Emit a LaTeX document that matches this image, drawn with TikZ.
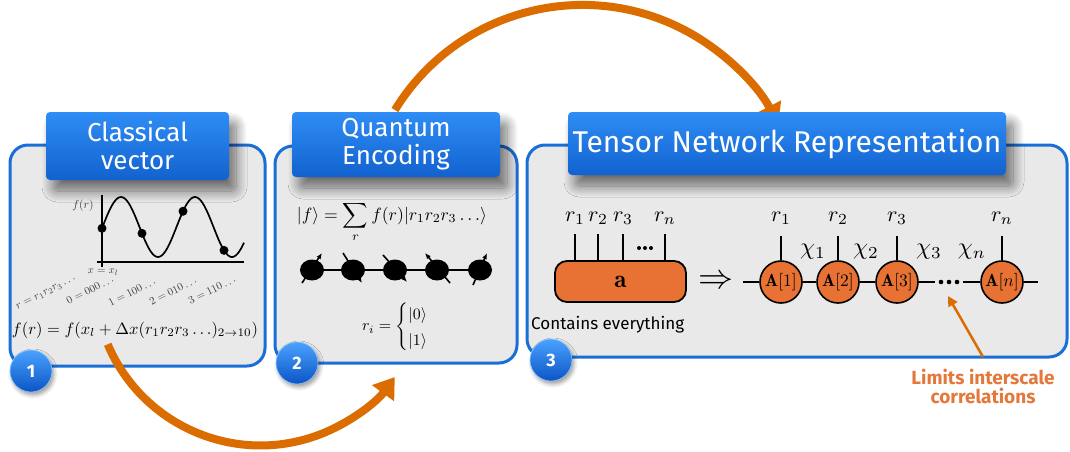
\documentclass[tikz,border=0pt]{standalone}
\usepackage{amsmath}
\usepackage{fontspec}
\newfontfamily\dinfont{Fira Sans}
\usetikzlibrary{shapes.geometric,arrows.meta,shadows.blur,calc}

\definecolor{panelblue}{HTML}{1A6ED8}
\definecolor{panelfill}{HTML}{E9E9E9}
\definecolor{titletop}{HTML}{2F8DF5}
\definecolor{titlebot}{HTML}{1262CF}
\definecolor{badgetop}{HTML}{4AA2FF}
\definecolor{badgemid}{HTML}{1A76EA}
\definecolor{badgebot}{HTML}{0B55C4}
\definecolor{arroworange}{HTML}{DA6C00}
\definecolor{tensororange}{HTML}{E87233}
\definecolor{noteorange}{HTML}{E4783A}

\newcommand{\fsz}[1]{\fontsize{#1}{#1}\selectfont}
\newcommand{\mth}[2]{\scalebox{#1}{$#2$}}

\begin{document}
\begin{tikzpicture}[x=1pt,y=-1pt,
  panel/.style={draw=panelblue, line width=3pt, fill=panelfill, rounded corners=18pt, inner sep=0pt},
  titlebox/.style={rounded corners=4pt, top color=titletop, bottom color=titlebot,
    text=white, align=center, inner sep=0pt,
    blur shadow={shadow xshift=7pt, shadow yshift=-11pt, shadow blur radius=11pt,
      shadow blur steps=14, shadow opacity=55}},
  badge/.style={circle, minimum size=42pt, inner sep=0pt,
    top color=badgetop, middle color=badgemid, bottom color=badgebot, text=white,
    draw=badgetop!60!white, line width=0.6pt,
    font=\dinfont\bfseries\fsz{18},
    blur shadow={shadow xshift=2pt, shadow yshift=-3pt, shadow blur radius=4pt, shadow opacity=40}},
  bigarrow/.style={draw=arroworange, line width=8pt, -{Triangle[width=26pt,length=20pt]}},
  notearrow/.style={draw=arroworange, line width=2.5pt, -{Triangle[width=10pt,length=10pt]}},
  site/.style={circle, draw, line width=1.6pt, fill=tensororange, minimum size=42pt, inner sep=0pt},
  tensorbox/.style={rectangle, rounded corners=12pt, draw, line width=1.8pt, fill=tensororange, inner sep=0pt},
  leg/.style={line width=1.6pt},
  mathlbl/.style={inner sep=0pt},
  spinsite/.style={ellipse, fill=black, minimum width=24pt, minimum height=21pt, inner sep=0pt},
  spin/.style={line width=1.6pt, -{Latex[length=6pt,width=5pt]}},
  small/.style={inner sep=0pt, text=black!75}
]
\useasboundingbox (0,0) rectangle (1070,452);

% ---------- panels ----------
\node[panel, minimum width=255pt, minimum height=221pt] (p1) at (137.5,255.5) {};
\node[panel, minimum width=242pt, minimum height=217pt] (p2) at (396,254.5) {};
\node[panel, minimum width=540pt, minimum height=212pt] (p3) at (797,251) {};

% ---------- flow arrows ----------
\coordinate (flowAstart) at (107.7,344.3);
\coordinate (flowBstart) at (394.9,110);
\draw[bigarrow] (flowAstart) arc[start angle=157, end angle=36, radius=166];
\draw[bigarrow] (flowBstart) arc[start angle=-148.5, end angle=-27.2, radius=220];

% ---------- titles ----------
\node[titlebox, minimum width=183pt, minimum height=68pt, font=\dinfont\fsz{26}] (t1) at (137.5,146)
  {Classical\\[2pt]vector};
\node[titlebox, minimum width=208pt, minimum height=65pt, font=\dinfont\fsz{26}] (t2) at (396,144.5)
  {Quantum\\[2pt]Encoding};
\node[titlebox, minimum width=438pt, minimum height=63pt, font=\dinfont\fsz{30}] (t3) at (787,143.5)
  {Tensor Network Representation};

% ---------- panel 1: classical vector ----------
\coordinate (yaxtop) at (102,195);
\coordinate (yaxbot) at (102,267);
\coordinate (xaxl) at (97,262);
\coordinate (xaxr) at (244,262);
\draw[line width=1.6pt] (yaxbot) -- (yaxtop);
\draw[line width=1.6pt] (xaxl) -- (xaxr);
\draw[line width=1.7pt] plot[domain=102:244, samples=90, smooth] (\x, {227-30*cos(4.8649*(\x-121))});
\foreach \px in {102,142,183,224}
  \fill (\px, {227-30*cos(4.8649*(\px-121))}) circle (4.5pt);
\node[small] (fr) at (83,206) {\mth{1.15}{f(r)}};
\node[small] (xl) at (103,272) {\mth{1.1}{x=x_l}};
\node[small, rotate=27] (lr) at (46,293) {\mth{1.12}{r=r_1r_2r_3\ldots}};
\node[small, rotate=27] (l0) at (90,290) {\mth{1.1}{0=000\ldots}};
\node[small, rotate=27] (l1) at (132,292) {\mth{1.1}{1=100\ldots}};
\node[small, rotate=27] (l2) at (173,291) {\mth{1.1}{2=010\ldots}};
\node[small, rotate=27] (l3) at (212,290) {\mth{1.1}{3=110\ldots}};
\node[inner sep=0pt] (feq) at (135,330)
  {\resizebox{246pt}{!}{$f(r)=f(x_l+\Delta x(r_1r_2r_3\ldots)_{2\rightarrow10})$}};

% ---------- panel 2: quantum encoding ----------
\node[inner sep=0pt] (qeq) at (392,222)
  {\resizebox{190pt}{!}{$\displaystyle |f\rangle=\sum_r f(r)|r_1r_2r_3\ldots\rangle$}};
\node[spinsite] (s1) at (312,270) {};
\node[spinsite] (s2) at (353,270) {};
\node[spinsite] (s3) at (395,270) {};
\node[spinsite] (s4) at (437,270) {};
\node[spinsite] (s5) at (480,270) {};
\draw[line width=1.8pt] (s1) -- (s2) -- (s3) -- (s4) -- (s5);
\draw[spin] ([shift={(-10,13)}]s1.center) -- ([shift={(10,-17)}]s1.center);
\draw[spin] ([shift={(-10,-17)}]s2.center) -- ([shift={(9,13)}]s2.center);
\draw[spin] ([shift={(-12,-15)}]s3.center) -- ([shift={(12,12)}]s3.center);
\draw[spin] ([shift={(13,13)}]s4.center) -- ([shift={(-12,-17)}]s4.center);
\draw[spin] ([shift={(-7,15)}]s5.center) -- ([shift={(7,-17)}]s5.center);
\node[inner sep=0pt] (ri) at (394.5,327)
  {\resizebox{65pt}{!}{\renewcommand{\arraystretch}{1.35}%
    $r_i=\left\{\begin{array}{@{}l@{}}|0\rangle\\|1\rangle\end{array}\right.\kern-\nulldelimiterspace$}};

% ---------- panel 3: tensor network ----------
\node[tensorbox, minimum width=131pt, minimum height=41pt] (ta) at (620.5,281.5) {\mth{2.5}{\mathbf{a}}};
\foreach \dx/\lab in {-45.5/1,-22.5/2,2.5/3,44.5/n} {
  \draw[leg] ([xshift=\dx pt]ta.north) -- ++(0,-26);
  \node[mathlbl] at ([shift={(\dx,-63.5)}]ta.center) {\mth{2.2}{r_{\lab}}};
}
\node[inner sep=0pt, minimum width=16pt, minimum height=5pt] (tadots) at (645,248) {};
\foreach \k in {-1,0,1}
  \fill ([xshift=\k*6pt]tadots.center) circle (2pt);
\node[inner sep=0pt] (impl) at (715.5,282) {\resizebox{35pt}{!}{$\Rightarrow$}};
\node[anchor=west, inner sep=0pt, font=\dinfont\fsz{17}] (contains) at (531,325) {Contains everything};

\node[site] (A1) at (781,282) {\mth{1.75}{\mathbf{A}[1]}};
\node[site] (A2) at (838,282) {\mth{1.75}{\mathbf{A}[2]}};
\node[site] (A3) at (897,282) {\mth{1.75}{\mathbf{A}[3]}};
\node[site] (An) at (1002,282) {\mth{1.75}{\mathbf{A}[n]}};
\node[inner sep=0pt, minimum width=20pt, minimum height=6pt] (mdots) at (949,282) {};
\foreach \k in {-1,0,1}
  \fill ([xshift=\k*8pt]mdots.center) circle (2.3pt);
\coordinate (Lend) at (743,282);
\coordinate (Rend) at (1038,282);
\draw[leg] (Lend) -- (A1) -- (A2) -- (A3) -- ([xshift=-4pt]mdots.west);
\draw[leg] ([xshift=4pt]mdots.east) -- (An) -- (Rend);
\foreach \s/\lab in {A1/1,A2/2,A3/3,An/n} {
  \draw[leg] (\s.north) -- ++(0,-24);
  \node[mathlbl] at ([yshift=64pt]\s.center) {\mth{2.2}{r_{\lab}}};
}
\node[mathlbl] (chi1) at (813,252) {\mth{2.4}{\chi_1}};
\node[mathlbl] (chi2) at (866,252) {\mth{2.4}{\chi_2}};
\node[mathlbl] (chi3) at (929,252) {\mth{2.4}{\chi_3}};
\node[mathlbl] (chin) at (972,252) {\mth{2.4}{\chi_n}};

\node[align=center, inner sep=0pt, text=noteorange, font=\dinfont\bfseries\fsz{19}] (note) at (983,386)
  {Limits interscale\\correlations};
\coordinate (noteTail) at (983,357);
\coordinate (noteTip) at (948,296);
\draw[notearrow] (noteTail) -- (noteTip);

% ---------- step badges ----------
\node[badge] (b1) at (31,371) {1};
\node[badge] (b2) at (297,363) {2};
\node[badge] (b3) at (551,360) {3};
\end{tikzpicture}
\end{document}
